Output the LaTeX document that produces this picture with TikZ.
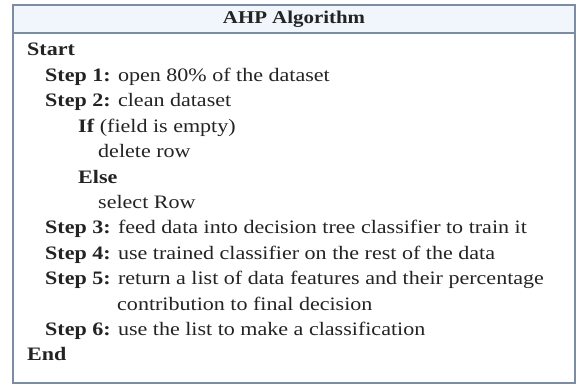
\documentclass[tikz,border=0pt]{standalone}
\usepackage{fontspec}
\setmainfont[FakeStretch=1.16]{Liberation Serif}
\definecolor{frame}{RGB}{125,140,165}
\definecolor{headfill}{RGB}{241,246,252}
\definecolor{ink}{RGB}{35,35,35}
\begin{document}
\begin{tikzpicture}[x=1pt,y=-1pt,
  codeline/.style={anchor=base west, inner sep=0pt, text=ink,
    font=\fontsize{19}{22}\selectfont},
  titleline/.style={anchor=base, inner sep=0pt, text=ink,
    font=\fontsize{18}{22}\selectfont\bfseries}]
\useasboundingbox (0,0) rectangle (577,385);
% header band and frame
\fill[headfill] (13,5) rectangle (575,33);
\draw[frame, line width=1.8pt] (13,5) rectangle (575,383);
\draw[frame, line width=1.8pt] (13,33) -- (575,33);
\node[titleline] (title) at (294,24) {AHP Algorithm};
% algorithm body, one node per printed line
\node[codeline] (l0)  at (27,56.0)  {\textbf{Start}};
\node[codeline] (l1)  at (45,81.4)  {\textbf{Step 1:} open 80\% of the dataset};
\node[codeline] (l2)  at (45,106.8) {\textbf{Step 2:} clean dataset};
\node[codeline] (l3)  at (78,132.2) {\textbf{If} (field is empty)};
\node[codeline] (l4)  at (98,157.6) {delete row};
\node[codeline] (l5)  at (78,183.0) {\textbf{Else}};
\node[codeline] (l6)  at (98,208.4) {select Row};
\node[codeline] (l7)  at (45,233.8) {\textbf{Step 3:} feed data into decision tree classifier to train it};
\node[codeline] (l8)  at (45,259.2) {\textbf{Step 4:} use trained classifier on the rest of the data};
\node[codeline] (l9)  at (45,284.6) {\textbf{Step 5:} return a list of data features and their percentage};
\node[codeline] (l10) at (117,310.0) {contribution to final decision};
\node[codeline] (l11) at (45,335.4) {\textbf{Step 6:} use the list to make a classification};
\node[codeline] (l12) at (27,360.8) {\textbf{End}};
\end{tikzpicture}
\end{document}
